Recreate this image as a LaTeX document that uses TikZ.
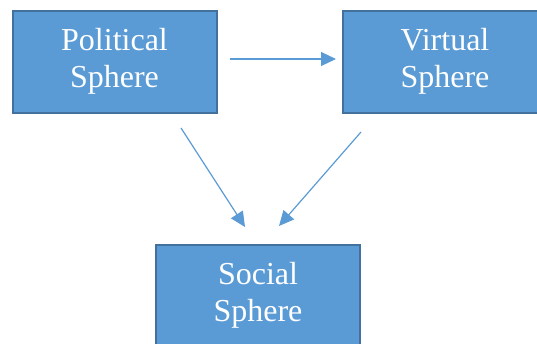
\documentclass[tikz,border=0pt]{standalone}
\usepackage{fontspec}
\setmainfont{Liberation Serif}
\usetikzlibrary{arrows.meta}
\definecolor{boxfill}{HTML}{5B9BD5}
\definecolor{boxline}{HTML}{41719C}
\begin{document}
\begin{tikzpicture}[x=1pt,y=-1pt,
  sphere/.style={draw=boxline, line width=2pt, fill=boxfill, text=white,
    minimum width=204pt, minimum height=102pt, inner sep=0pt, align=center,
    font=\fontsize{32}{37}\selectfont},
  link/.style={draw=boxfill, line width=1.2pt, -{Triangle[length=15pt,width=14pt]}}]
\useasboundingbox (0,0) rectangle (537,343);
\clip (0,0) rectangle (537,343);
\node[sphere] (pol) at (114.5,61.5) {Political\\Sphere};
\node[sphere] (vir) at (445,61.5) {Virtual\\Sphere};
\node[sphere] (soc) at (258,295.5) {Social\\Sphere};
\coordinate (a1) at (230,59);
\coordinate (a2) at (336,59);
\coordinate (b1) at (181,128);
\coordinate (b2) at (245,227);
\coordinate (c1) at (361,132);
\coordinate (c2) at (279,226);
\draw[link] (a1) -- (a2);
\draw[link] (b1) -- (b2);
\draw[link] (c1) -- (c2);
\end{tikzpicture}
\end{document}
